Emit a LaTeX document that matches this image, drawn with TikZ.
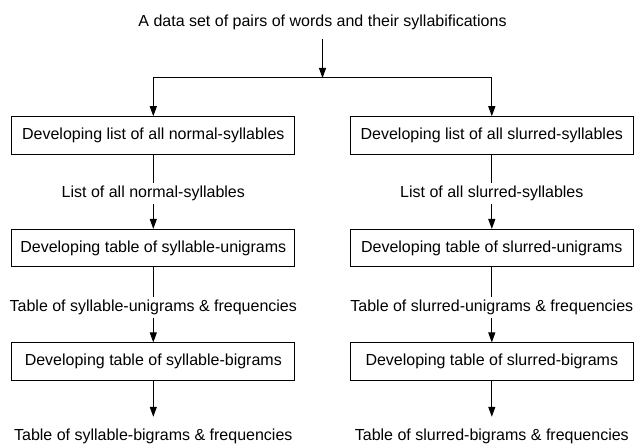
\documentclass[tikz,border=0pt]{standalone}
\usepackage{fontspec}
\setmainfont{Liberation Sans}
\usetikzlibrary{arrows.meta}
\begin{document}
\begin{tikzpicture}[x=1bp,y=-1bp,
  every node/.style={font=\fontsize{16bp}{19bp}\selectfont,
    text height=11.5bp, text depth=3.5bp},
  stage/.style={draw, line width=1bp, minimum width=282.6bp,
    minimum height=37.5bp, inner sep=0pt},
  datum/.style={inner sep=0pt, inner ysep=3bp},
  link/.style={line width=1bp},
  flow/.style={line width=1bp, -{Triangle[length=10bp,width=7bp]}}]
\useasboundingbox (0,0) rectangle (634,444);

% source data set and the fork into two branches
\node[datum, anchor=base] (src) at (322.5,27)
  {A data set of pairs of words and their syllabifications};
\coordinate (fork) at (322.5,78);

% normal-syllable branch
\node[stage] (a1) at (153.3,135.5) {Developing list of all normal-syllables};
\node[datum, anchor=base] (da1) at (153.3,197.5) {List of all normal-syllables};
\node[stage] (a2) at (153.3,248.2) {Developing table of syllable-unigrams};
\node[datum, anchor=base] (da2) at (153.3,311.3) {Table of syllable-unigrams \& frequencies};
\node[stage] (a3) at (153.3,361.7) {Developing table of syllable-bigrams};
\node[datum, anchor=base] (da3) at (153.3,440) {Table of syllable-bigrams \& frequencies};

% slurred-syllable branch
\node[stage] (b1) at (491.8,135.5) {Developing list of all slurred-syllables};
\node[datum, anchor=base] (db1) at (491.8,197.5) {List of all slurred-syllables};
\node[stage] (b2) at (491.8,248.2) {Developing table of slurred-unigrams};
\node[datum, anchor=base] (db2) at (491.8,311.3) {Table of slurred-unigrams \& frequencies};
\node[stage] (b3) at (491.8,361.7) {Developing table of slurred-bigrams};
\node[datum, anchor=base] (db3) at (491.8,440) {Table of slurred-bigrams \& frequencies};

% connectors
\draw[flow, shorten <=5bp] (src) -- (fork);
\draw[flow] (fork) -| (a1);
\draw[flow] (fork) -| (b1);

\draw[link] (a1) -- (da1);
\draw[flow] (da1) -- (a2);
\draw[link] (a2) -- (da2);
\draw[flow] (da2) -- (a3);
\draw[flow, shorten >=8.5bp] (a3) -- (da3);

\draw[link] (b1) -- (db1);
\draw[flow] (db1) -- (b2);
\draw[link] (b2) -- (db2);
\draw[flow] (db2) -- (b3);
\draw[flow, shorten >=8.5bp] (b3) -- (db3);
\end{tikzpicture}
\end{document}
